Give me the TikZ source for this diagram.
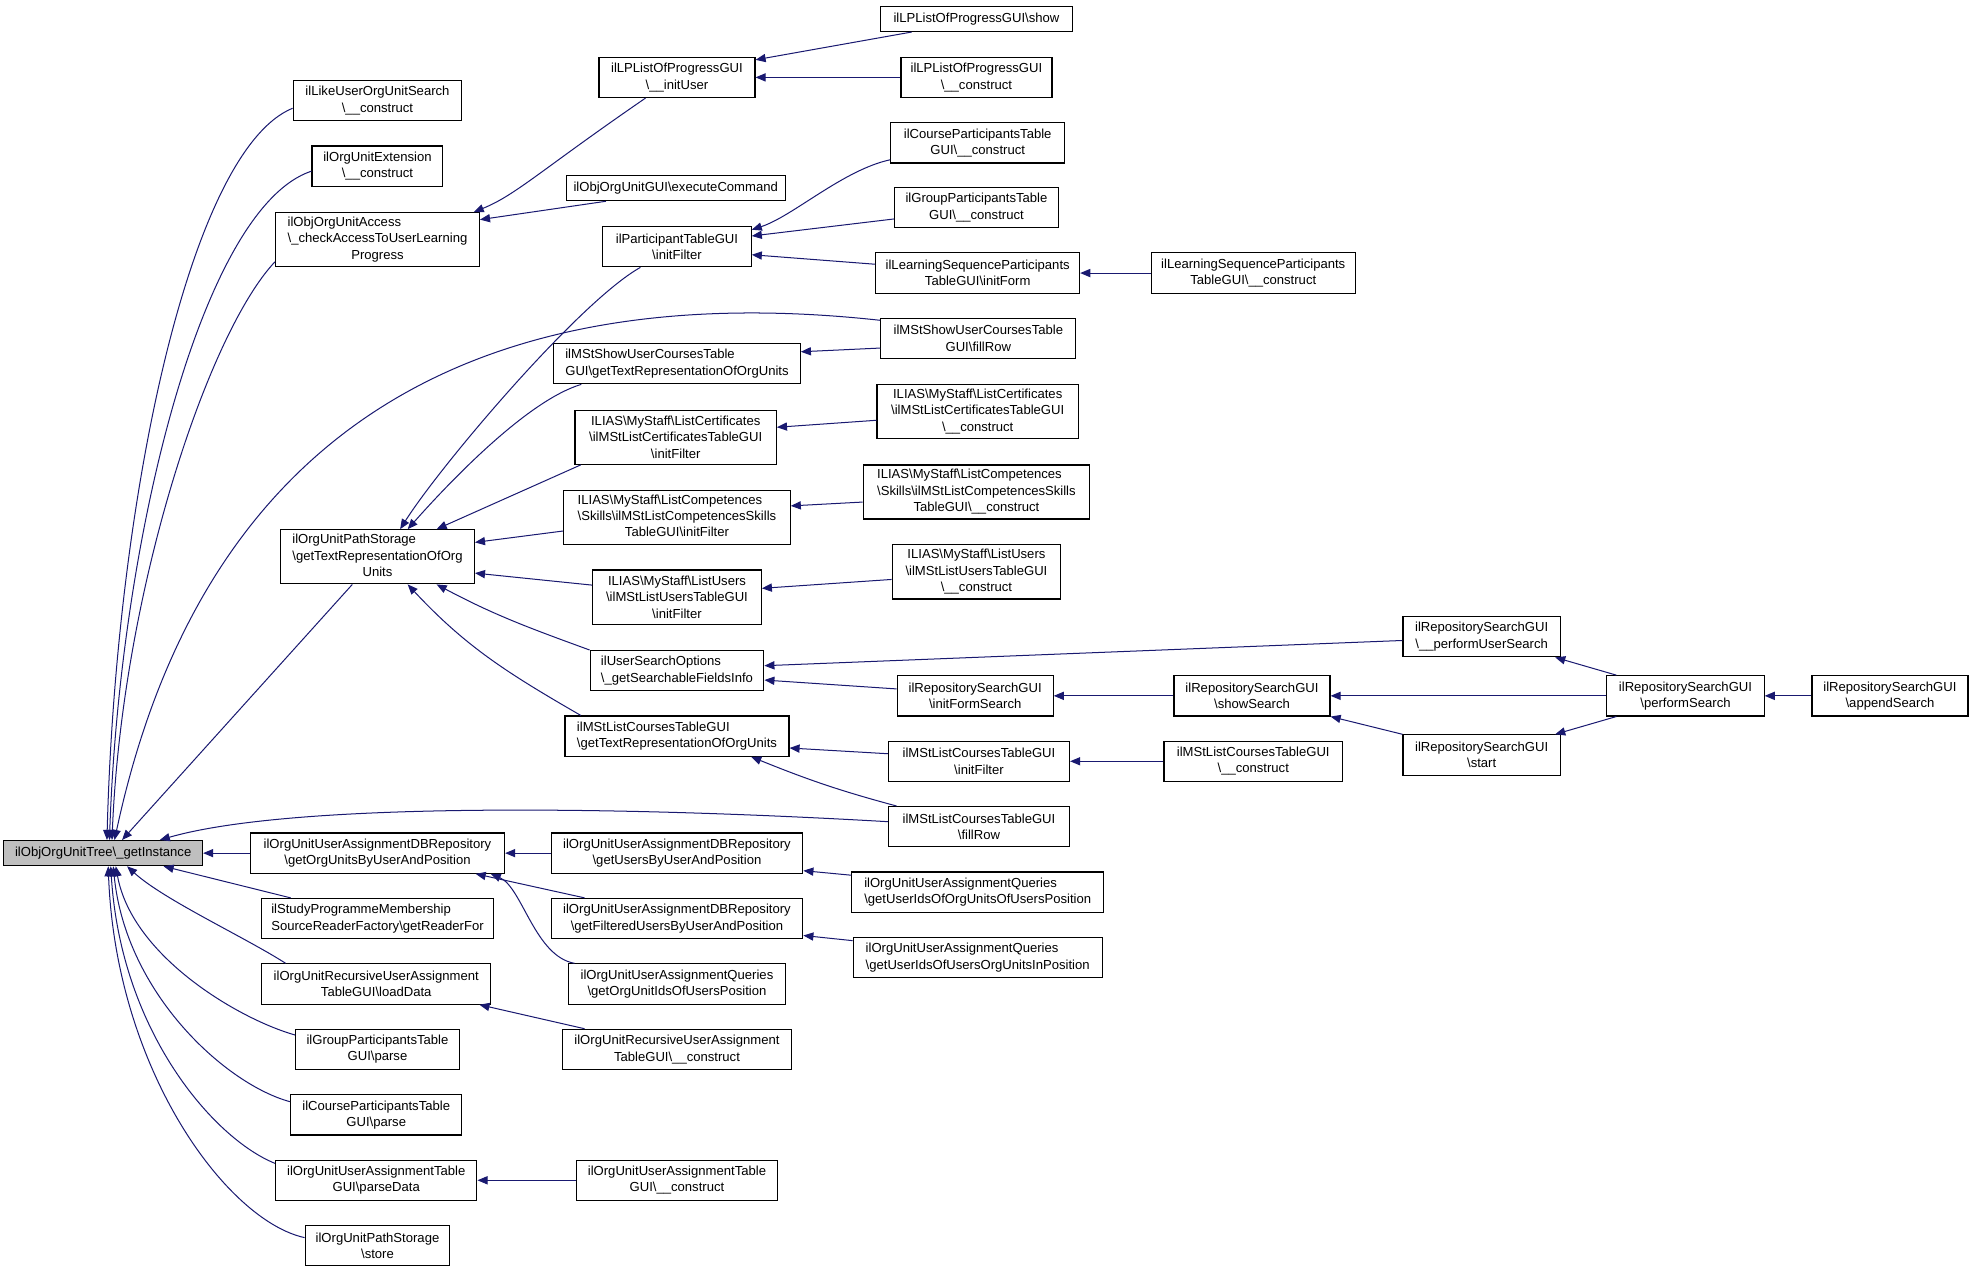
\documentclass[tikz,border=0pt]{standalone}
\usepackage{fontspec}
\setmainfont{Liberation Sans}
\usepackage{tikz}
\usetikzlibrary{arrows.meta}
\definecolor{edgeblue}{HTML}{191970}
\definecolor{gifill}{HTML}{BFBFBF}
\newcommand{\bks}{\textbackslash}
\tikzset{
    >={Triangle[length=8pt,width=6.5pt]}, % filled arrow heads
    fn/.style={draw=black, fill=white, line width=0.9pt, inner sep=2pt,
               align=center, font=\fontsize{10.4}{13}\selectfont}, % every function box
    oneline/.style={minimum height=20pt},
    twoline/.style={minimum height=32pt},
    threeline/.style={minimum height=43pt},
    lft/.style={align=left}, % left aligned box text
    call/.style={<-, draw=edgeblue, line width=0.8pt}, % arrow points at the called function
}

\begin{document}
\begin{tikzpicture}[x=1pt, y=-1pt]
\useasboundingbox (0,0) rectangle (1568,1010);
% column 1
\node[fn, oneline, fill=gifill, minimum width=158pt] (gi) at (82,678) {ilObjOrgUnitTree\bks\_getInstance};
% column 2
\node[fn, twoline, minimum width=134pt] (likeuser) at (300,80) {ilLikeUserOrgUnitSearch\\\bks\_\_construct};
\node[fn, twoline, minimum width=104pt] (extension) at (300,132) {ilOrgUnitExtension\\\bks\_\_construct};
\node[fn, threeline, minimum width=162pt] (access) at (300,190.5) {\begin{tabular}{@{}l@{}}ilObjOrgUnitAccess\\\bks\_checkAccessToUserLearning\\\multicolumn{1}{@{}c@{}}{Progress}\end{tabular}};
\node[fn, threeline, minimum width=154pt] (pathtext) at (300,442.5) {\begin{tabular}{@{}l@{}}ilOrgUnitPathStorage\\\bks getTextRepresentationOfOrg\\\multicolumn{1}{@{}c@{}}{Units}\end{tabular}};
\node[fn, twoline, minimum width=202pt] (dbunits) at (300,678) {ilOrgUnitUserAssignmentDBRepository\\\bks getOrgUnitsByUserAndPosition};
\node[fn, twoline, lft, minimum width=184pt] (studyprog) at (300,730) {ilStudyProgrammeMembership\\SourceReaderFactory\bks getReaderFor};
\node[fn, twoline, minimum width=182pt] (recload) at (299,782) {ilOrgUnitRecursiveUserAssignment\\TableGUI\bks loadData};
\node[fn, twoline, minimum width=130pt] (groupparse) at (300,834) {ilGroupParticipantsTable\\GUI\bks parse};
\node[fn, twoline, minimum width=136pt] (courseparse) at (299,886) {ilCourseParticipantsTable\\GUI\bks parse};
\node[fn, twoline, minimum width=160pt] (uatparse) at (299,938) {ilOrgUnitUserAssignmentTable\\GUI\bks parseData};
\node[fn, twoline, minimum width=115pt] (store) at (300,990) {ilOrgUnitPathStorage\\\bks store};
% column 3
\node[fn, twoline, minimum width=124pt] (inituser) at (538,61.5) {ilLPListOfProgressGUI\\\bks\_\_initUser};
\node[fn, oneline, minimum width=174pt] (execcmd) at (537,149.5) {ilObjOrgUnitGUI\bks executeCommand};
\node[fn, twoline, minimum width=118pt] (ptfilter) at (538,196) {ilParticipantTableGUI\\\bks initFilter};
\node[fn, twoline, lft, minimum width=196pt] (showtext) at (538,289) {ilMStShowUserCoursesTable\\GUI\bks getTextRepresentationOfOrgUnits};
\node[fn, threeline, minimum width=160pt] (certfilter) at (537,347.5) {ILIAS\bks MyStaff\bks ListCertificates\\\bks ilMStListCertificatesTableGUI\\\bks initFilter};
\node[fn, threeline, minimum width=180pt] (compfilter) at (538,411) {\begin{tabular}{@{}l@{}}ILIAS\bks MyStaff\bks ListCompetences\\\bks Skills\bks ilMStListCompetencesSkills\\\multicolumn{1}{@{}c@{}}{TableGUI\bks initFilter}\end{tabular}};
\node[fn, threeline, minimum width=134pt] (usersfilter) at (538,474.5) {ILIAS\bks MyStaff\bks ListUsers\\\bks ilMStListUsersTableGUI\\\bks initFilter};
\node[fn, twoline, lft, minimum width=138pt] (searchopt) at (538,533) {ilUserSearchOptions\\\bks\_getSearchableFieldsInfo};
\node[fn, twoline, lft, minimum width=178pt] (coursestext) at (538,585) {ilMStListCoursesTableGUI\\\bks getTextRepresentationOfOrgUnits};
\node[fn, twoline, minimum width=200pt] (usersby) at (538,678) {ilOrgUnitUserAssignmentDBRepository\\\bks getUsersByUserAndPosition};
\node[fn, twoline, minimum width=200pt] (filtered) at (538,730) {ilOrgUnitUserAssignmentDBRepository\\\bks getFilteredUsersByUserAndPosition};
\node[fn, twoline, minimum width=172pt] (orgunitids) at (538,782) {ilOrgUnitUserAssignmentQueries\\\bks getOrgUnitIdsOfUsersPosition};
\node[fn, twoline, minimum width=182pt] (recconstr) at (538,834) {ilOrgUnitRecursiveUserAssignment\\TableGUI\bks\_\_construct};
\node[fn, twoline, minimum width=160pt] (uatconstr) at (538,938) {ilOrgUnitUserAssignmentTable\\GUI\bks\_\_construct};
% column 4
\node[fn, oneline, minimum width=152pt] (lpshow) at (776,15) {ilLPListOfProgressGUI\bks show};
\node[fn, twoline, minimum width=120pt] (lpconstr) at (776,61.5) {ilLPListOfProgressGUI\\\bks\_\_construct};
\node[fn, twoline, minimum width=138pt] (cpconstr) at (777,113.5) {ilCourseParticipantsTable\\GUI\bks\_\_construct};
\node[fn, twoline, minimum width=130pt] (gpconstr) at (776,165) {ilGroupParticipantsTable\\GUI\bks\_\_construct};
\node[fn, twoline, minimum width=162pt] (lsform) at (777,217) {ilLearningSequenceParticipants\\TableGUI\bks initForm};
\node[fn, twoline, minimum width=155pt] (showfill) at (777.5,269) {ilMStShowUserCoursesTable\\GUI\bks fillRow};
\node[fn, threeline, minimum width=160pt] (certconstr) at (777,327) {ILIAS\bks MyStaff\bks ListCertificates\\\bks ilMStListCertificatesTableGUI\\\bks\_\_construct};
\node[fn, threeline, minimum width=180pt] (compconstr) at (776,391) {\begin{tabular}{@{}l@{}}ILIAS\bks MyStaff\bks ListCompetences\\\bks Skills\bks ilMStListCompetencesSkills\\\multicolumn{1}{@{}c@{}}{TableGUI\bks\_\_construct}\end{tabular}};
\node[fn, threeline, minimum width=134pt] (usersconstr) at (776,454.5) {ILIAS\bks MyStaff\bks ListUsers\\\bks ilMStListUsersTableGUI\\\bks\_\_construct};
\node[fn, twoline, minimum width=124pt] (formsearch) at (775,553) {ilRepositorySearchGUI\\\bks initFormSearch};
\node[fn, twoline, minimum width=144pt] (coursesfilter) at (778,605) {ilMStListCoursesTableGUI\\\bks initFilter};
\node[fn, twoline, minimum width=144pt] (coursesfill) at (778,657) {ilMStListCoursesTableGUI\\\bks fillRow};
\node[fn, twoline, lft, minimum width=200pt] (qorgunits) at (777,709) {ilOrgUnitUserAssignmentQueries\\\bks getUserIdsOfOrgUnitsOfUsersPosition};
\node[fn, twoline, lft, minimum width=198pt] (qusers) at (777,761) {ilOrgUnitUserAssignmentQueries\\\bks getUserIdsOfUsersOrgUnitsInPosition};
% column 5
\node[fn, twoline, minimum width=162pt] (lsconstr) at (996,217) {ilLearningSequenceParticipants\\TableGUI\bks\_\_construct};
\node[fn, twoline, minimum width=124pt] (showsearch) at (995,553) {ilRepositorySearchGUI\\\bks showSearch};
\node[fn, twoline, minimum width=142pt] (coursesconstr) at (996,605) {ilMStListCoursesTableGUI\\\bks\_\_construct};
% columns 6 to 8
\node[fn, twoline, minimum width=125pt] (perfuser) at (1177.5,506) {ilRepositorySearchGUI\\\bks\_\_performUserSearch};
\node[fn, twoline, minimum width=125pt] (start) at (1177.5,600) {ilRepositorySearchGUI\\\bks start};
\node[fn, twoline, minimum width=125pt] (perfsearch) at (1339.5,553) {ilRepositorySearchGUI\\\bks performSearch};
\node[fn, twoline, minimum width=124pt] (append) at (1502,553) {ilRepositorySearchGUI\\\bks appendSearch};

% callers of getInstance
\draw[call] ([xshift=3pt]gi.north) .. controls (92,400) and (150,120) .. ([yshift=-6pt]likeuser.west);
\draw[call] ([xshift=5pt]gi.north) .. controls (95,430) and (160,165) .. ([yshift=-4pt]extension.west);
\draw[call] ([xshift=7pt]gi.north) .. controls (97,470) and (165,265) .. ([yshift=-17.5pt]access.west);
\draw[call] ([xshift=9pt]gi.north) .. controls (170,300) and (430,225) .. ([yshift=-2pt]showfill.north west);
\draw[call] ([xshift=15pt]gi.north) -- ([xshift=-20pt]pathtext.south);
\draw[call] ([xshift=45pt]gi.north) .. controls (230,638) and (480,640) .. ([yshift=4pt]coursesfill.west);
\draw[call] (gi.east) -- (dbunits.west);
\draw[call] ([xshift=48pt]gi.south) -- ([xshift=-69pt]studyprog.north);
\draw[call] ([xshift=19pt]gi.south) .. controls (130,715) and (195,745) .. ([xshift=-72pt]recload.north);
\draw[call] ([xshift=10pt]gi.south) .. controls (105,760) and (190,810) .. ([yshift=-5pt]groupparse.north west);
\draw[call] ([xshift=8pt]gi.south) .. controls (100,790) and (180,862) .. ([yshift=-6pt]courseparse.north west);
\draw[call] ([xshift=6pt]gi.south) .. controls (96,820) and (170,905) .. ([yshift=-3pt]uatparse.north west);
\draw[call] ([xshift=4pt]gi.south) .. controls (92,850) and (180,970) .. ([yshift=-10pt]store.north west);

% access check
\draw[call] ([xshift=-5pt]access.north east) .. controls (410,155) and (430,135) .. ([xshift=-25pt]inituser.south);
\draw[call] ([yshift=-6pt]access.north east) -- ([xshift=32pt]execcmd.south west);
\draw[call] ([yshift=-2.5pt]inituser.north east) -- ([xshift=25pt]lpshow.south west);
\draw[call] (inituser.east) -- (lpconstr.west);

% text representation
\draw[call] ([xshift=18pt]pathtext.north) .. controls (350,370) and (460,240) .. ([xshift=-29pt]ptfilter.south);
\draw[call] ([xshift=24pt]pathtext.north) .. controls (360,380) and (420,318) .. ([xshift=-76pt]showtext.south);
\draw[call] ([xshift=47pt]pathtext.north) -- ([xshift=5pt]certfilter.south west);
\draw[call] ([yshift=-10.5pt]pathtext.north east) -- ([yshift=-11pt]compfilter.west);
\draw[call] ([yshift=9pt]pathtext.south east) -- ([yshift=9.5pt]usersfilter.west);
\draw[call] ([xshift=47pt]pathtext.south) to[out=-28, in=160] (searchopt.north west);
\draw[call] ([xshift=24pt]pathtext.south) to[out=-47, in=150] ([xshift=13pt]coursestext.north west);

% participant tables
\draw[call] ([yshift=-3pt]ptfilter.north east) .. controls (630,172) and (670,135) .. ([yshift=3pt]cpconstr.south west);
\draw[call] ([yshift=-8pt]ptfilter.north east) -- ([yshift=-9pt]gpconstr.west);
\draw[call] ([yshift=10pt]ptfilter.south east) -- ([yshift=7pt]lsform.west);
\draw[call] (lsform.east) -- (lsconstr.west);
\draw[call] ([yshift=-7pt]showtext.north east) -- ([yshift=-7.6pt]showfill.west);
\draw[call] ([yshift=-14pt]certfilter.north east) -- ([yshift=-7pt]certconstr.west);
\draw[call] ([yshift=-13pt]compfilter.north east) -- ([yshift=-8pt]compconstr.west);
\draw[call] ([yshift=-15pt]usersfilter.north east) -- ([yshift=-6pt]usersconstr.west);

% repository search
\draw[call] ([yshift=-12.5pt]searchopt.north east) -- ([yshift=-3pt]perfuser.west);
\draw[call] ([yshift=9pt]searchopt.south east) -- ([yshift=5.5pt]formsearch.west);
\draw[call] (formsearch.east) -- (showsearch.west);
\draw[call] (showsearch.east) -- (perfsearch.west);
\draw[call] (showsearch.south east) -- (start.north west);
\draw[call] ([xshift=-4.5pt]perfuser.south east) -- ([xshift=8pt]perfsearch.north west);
\draw[call] ([xshift=-4.5pt]start.north east) -- ([xshift=8pt]perfsearch.south west);
\draw[call] (perfsearch.east) -- (append.west);

% course lists
\draw[call] ([yshift=7pt]coursestext.south east) -- ([yshift=6pt]coursesfilter.west);
\draw[call] ([xshift=59pt]coursestext.south) to[out=-22, in=165] ([xshift=7pt]coursesfill.north west);
\draw[call] (coursesfilter.east) -- (coursesconstr.west);

% user assignments
\draw[call] (dbunits.east) -- (usersby.west);
\draw[call] ([xshift=78pt]dbunits.south) -- ([xshift=27pt]filtered.north west);
\draw[call] ([xshift=90pt]dbunits.south) .. controls (415,705) and (425,760) .. ([xshift=5pt]orgunitids.north west);
\draw[call] ([yshift=2.5pt]usersby.south east) -- ([yshift=-3pt]qorgunits.north west);
\draw[call] ([yshift=3pt]filtered.south east) -- ([yshift=-3pt]qusers.north west);
\draw[call] ([xshift=82pt]recload.south) -- ([xshift=18pt]recconstr.north west);
\draw[call] (uatparse.east) -- (uatconstr.west);
\end{tikzpicture}
\end{document}
